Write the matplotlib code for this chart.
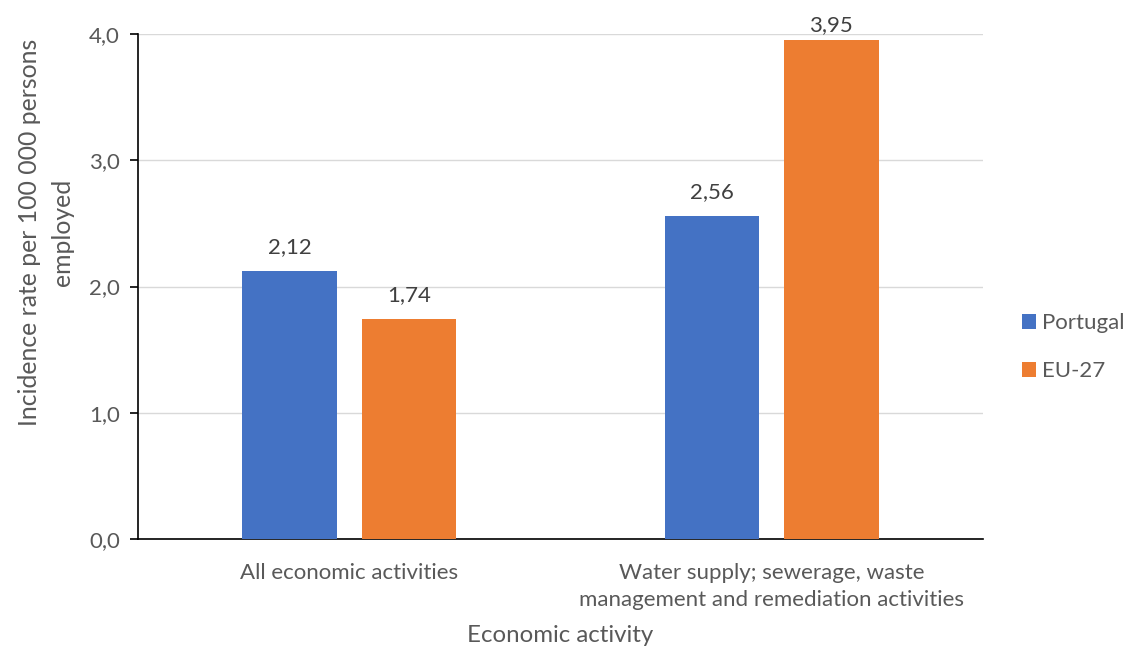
import matplotlib
matplotlib.use("Agg")
import matplotlib.pyplot as plt
import numpy as np

categories = ["All economic activities",
              "Water supply; sewerage, waste\nmanagement and remediation activities"]
series_names = ["Portugal", "EU-27"]
portugal = [2.12, 2.56]
eu27 = [1.74, 3.95]
yticks = [0.0, 1.0, 2.0, 3.0, 4.0]
colors = ["#4472C4", "#ED7D31"]

plt.rcParams['font.family'] = ['Lato', 'DejaVu Sans']
txt = "#595959"

W, H = 1126, 647
fig = plt.figure(figsize=(W/100, H/100), dpi=100)
ax = fig.add_axes([138/W, 1-539/H, (983-138)/W, (539-34)/H])

x = np.arange(len(categories))
w = 0.224
off = 0.141
ax.set_xlim(-0.5, 1.5)
ax.set_ylim(0, 4.0)
for vals, name, c, d in [(portugal, series_names[0], colors[0], -off),
                         (eu27, series_names[1], colors[1], off)]:
    bars = ax.bar(x + d, vals, width=w, color=c, label=name, zorder=3)
    for b, v in zip(bars, vals):
        cx = b.get_x() + b.get_width()/2
        top_from_top = H - ax.transData.transform((cx, v))[1]
        avail = top_from_top - 22 - 13
        off_px = max(0, min(14, avail))
        ax.annotate(f"{v:.2f}".replace(".", ","), (cx, v),
                    xytext=(0, off_px*72/100), textcoords="offset points",
                    ha="center", va="bottom", fontsize=16, color="#404040")

ax.set_yticks(yticks)
ax.set_yticklabels([f"{t:.1f}".replace(".", ",") for t in yticks], fontsize=16, color=txt)
ax.set_xticks(x)
ax.set_xticklabels(categories, fontsize=16, color=txt, linespacing=1.45)
ax.tick_params(axis='x', length=0, pad=17)
ax.tick_params(axis='y', length=6, width=1.2, color='black', pad=7)
ax.yaxis.grid(True, color="#D9D9D9", linewidth=1, zorder=0)
for s in ["top", "right"]:
    ax.spines[s].set_visible(False)
for s in ["left", "bottom"]:
    ax.spines[s].set_color("black")
    ax.spines[s].set_linewidth(1.2)

ax.set_ylabel("Incidence rate per 100 000 persons\nemployed", fontsize=17.8, color=txt,
              linespacing=1.5)
ax.yaxis.set_label_coords((74-138)/845, (539-232)/505)
ax.set_xlabel("Economic activity", fontsize=17.3, color=txt)
ax.xaxis.set_label_coords(0.5, -(625-539)/505)

leg = ax.legend(loc="center left", bbox_to_anchor=((1022-138)/845, (539-347)/505), frameon=False,
                fontsize=16, handlelength=0.65, handleheight=0.65, handletextpad=0.25,
                labelspacing=1.25, borderpad=0, borderaxespad=0)
for t in leg.get_texts():
    t.set_color(txt)

fig.savefig("out.png", dpi=100)
